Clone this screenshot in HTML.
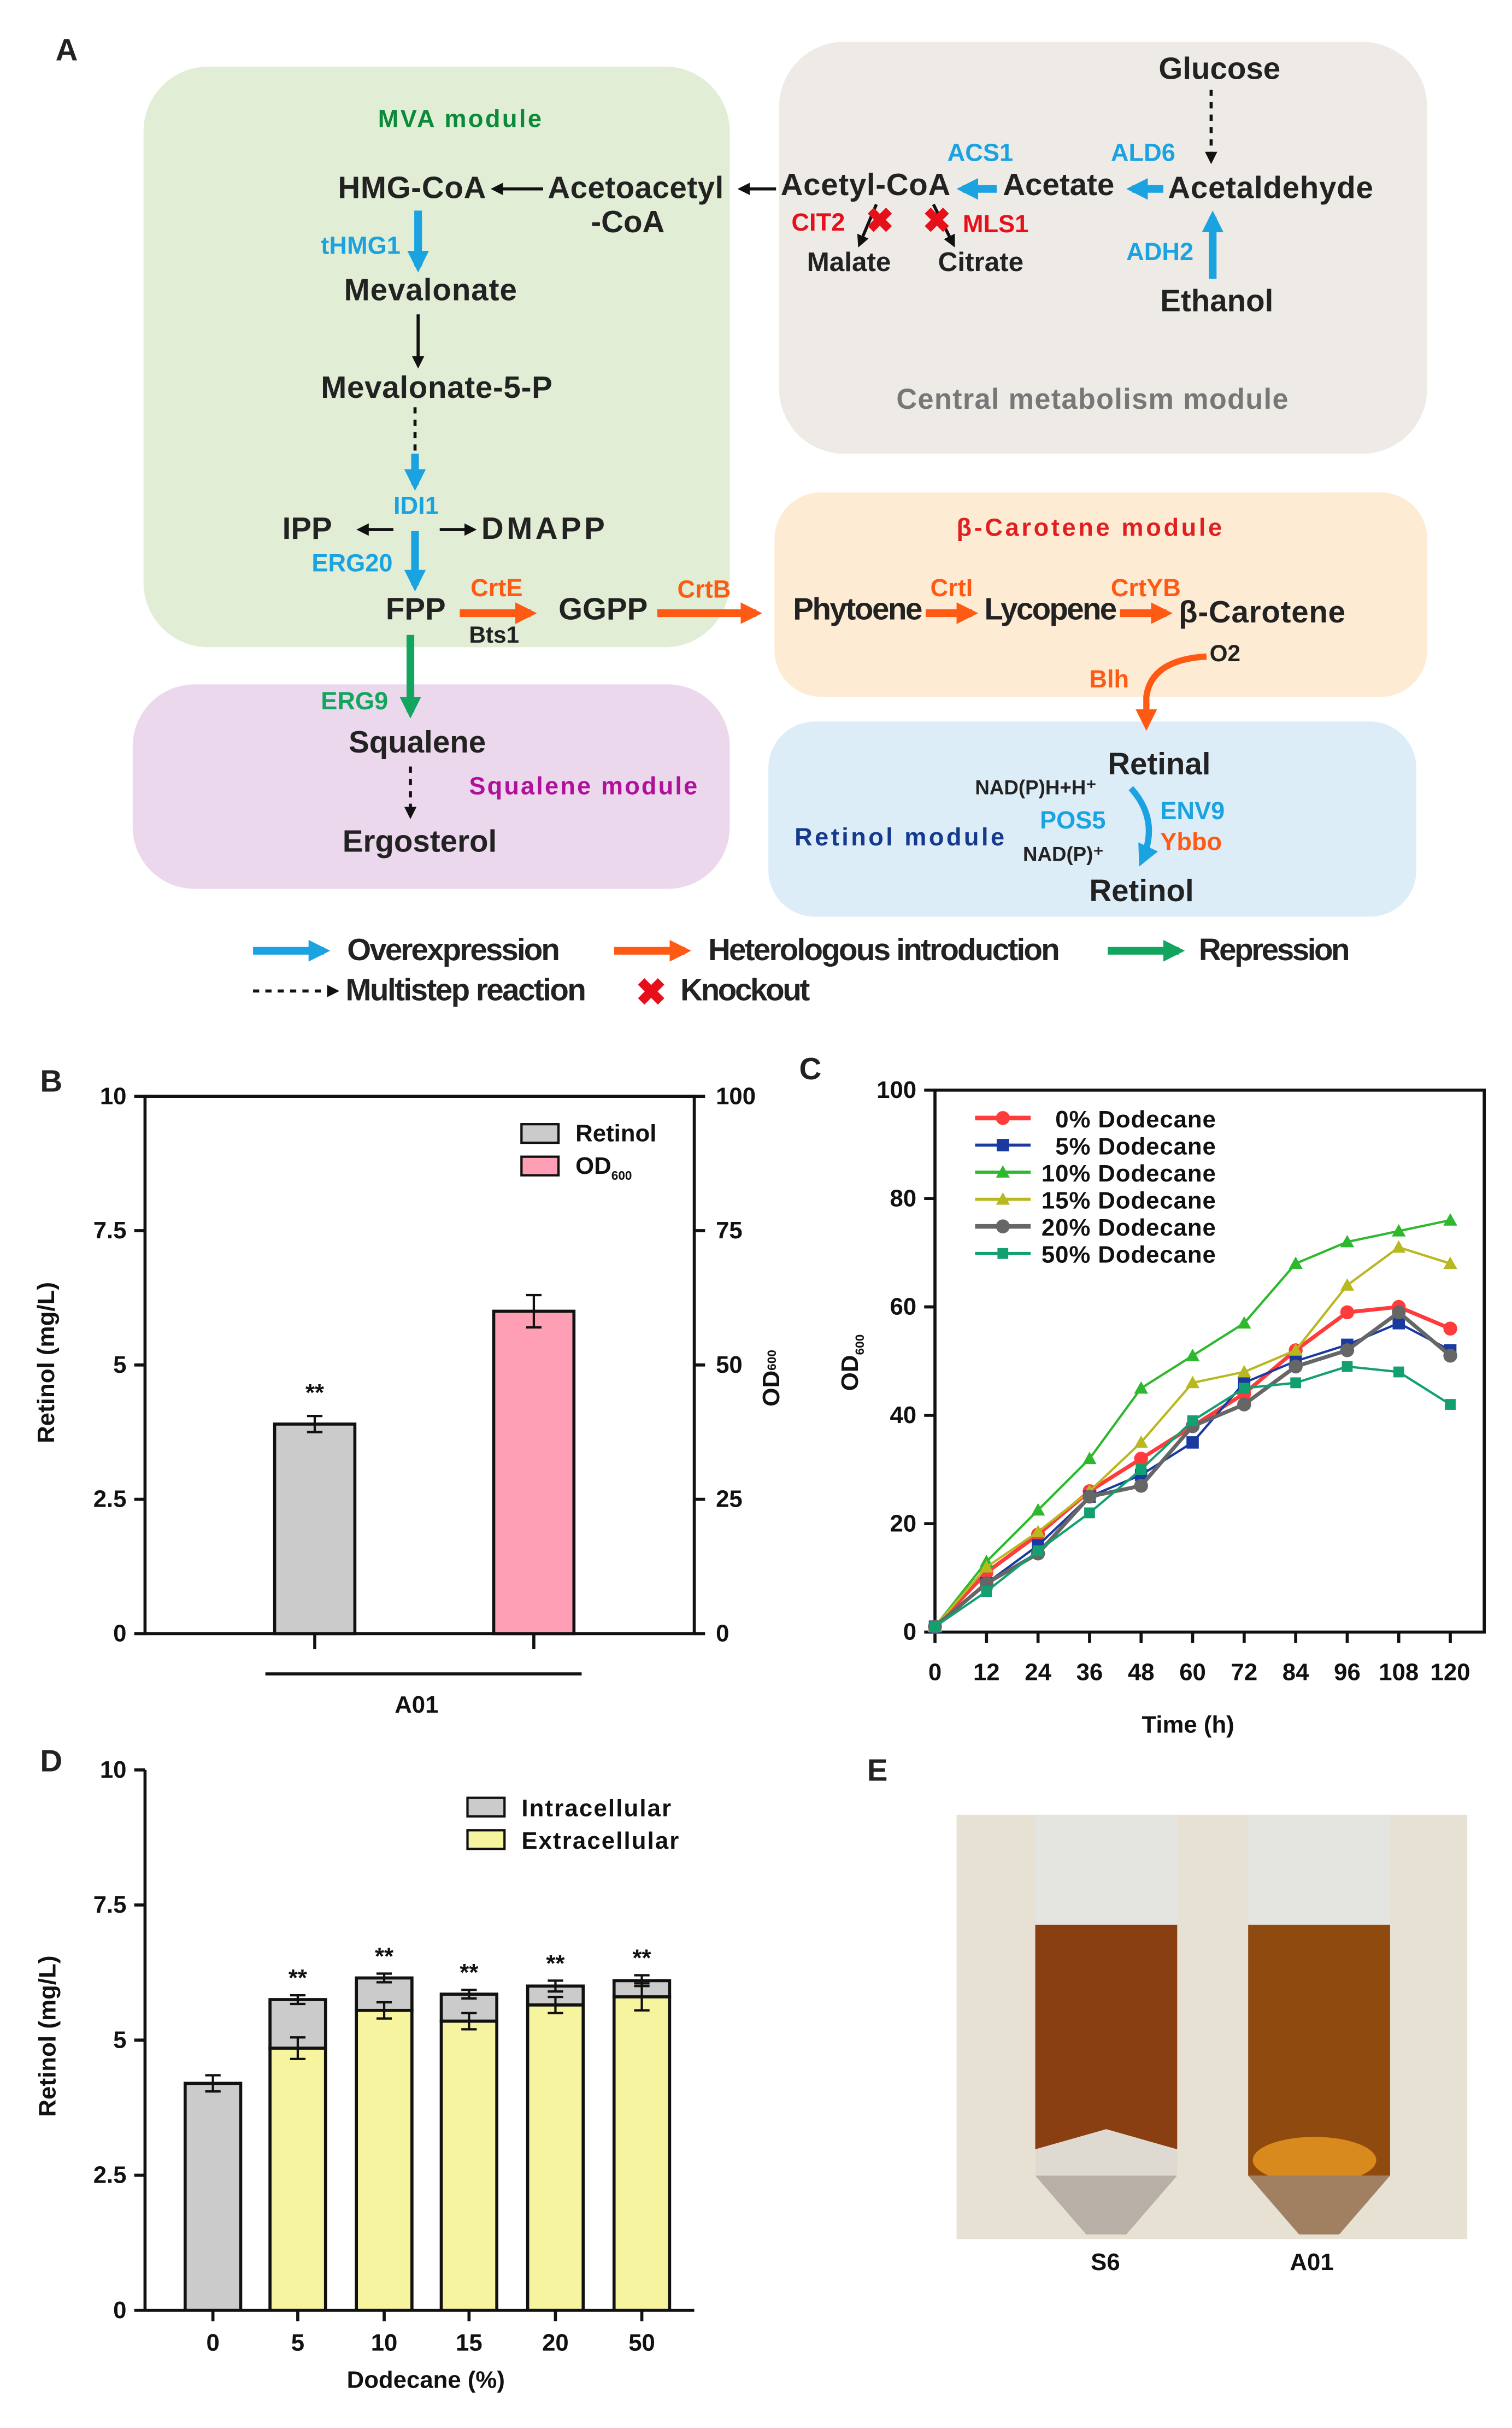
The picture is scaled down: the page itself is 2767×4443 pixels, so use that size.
<!DOCTYPE html>
<html><head><meta charset="utf-8"><style>
html,body{margin:0;padding:0;background:#fff;}
svg{display:block;font-family:"Liberation Sans",Arial,sans-serif;}
.m{font-weight:bold;font-size:20px;fill:#222;}
.e{font-weight:bold;font-size:16px;}
.t{font-weight:bold;font-size:15.5px;fill:#111;}
</style></head><body>
<svg id="fig" width="2767" height="4443" viewBox="0 0 980 1568" preserveAspectRatio="none" xmlns="http://www.w3.org/2000/svg">
<defs>
<marker id="ak" markerWidth="8" markerHeight="8" refX="6" refY="4" orient="auto" markerUnits="userSpaceOnUse"><path d="M0,0 L8,4 L0,8 Z" fill="#111"/></marker>
<marker id="ab" markerWidth="14" markerHeight="14" refX="10" refY="7" orient="auto" markerUnits="userSpaceOnUse"><path d="M0,0 L14,7 L0,14 Z" fill="#1aa3e0"/></marker>
<marker id="ao" markerWidth="14" markerHeight="14" refX="10" refY="7" orient="auto" markerUnits="userSpaceOnUse"><path d="M0,0 L14,7 L0,14 Z" fill="#ff5a14"/></marker>
<marker id="ag" markerWidth="14" markerHeight="14" refX="10" refY="7" orient="auto" markerUnits="userSpaceOnUse"><path d="M0,0 L14,7 L0,14 Z" fill="#13a560"/></marker>
</defs>
<rect width="980" height="1568" fill="#fff"/>
<!-- Panel A -->
<g>
<text x="36" y="39" class="m" font-size="18">A</text>
<rect x="93" y="43" width="380" height="375" rx="42" fill="#e1eed5"/>
<rect x="505" y="27" width="420" height="266" rx="42" fill="#eeebe6"/>
<rect x="502" y="318" width="423" height="132" rx="30" fill="#fdebd4"/>
<rect x="86" y="442" width="387" height="132" rx="40" fill="#ebd8ec"/>
<rect x="498" y="466" width="420" height="126" rx="30" fill="#dcedf8"/>
<text x="245" y="82" class="e" fill="#0a8a3a" font-size="18" textLength="106">MVA module</text>
<text x="581" y="264" font-size="18.5" font-weight="bold" fill="#777" textLength="254">Central metabolism  module</text>
<text x="620" y="346" class="e" fill="#e02020" font-size="18.5" textLength="172">β-Carotene module</text>
<text x="304" y="513" class="e" fill="#b0109a" font-size="18.5" textLength="148">Squalene module</text>
<text x="515" y="546" class="e" fill="#153a8c" font-size="19" textLength="136">Retinol module</text>

<text x="751" y="51" class="m">Glucose</text>
<line x1="785" y1="58" x2="785" y2="104" stroke="#111" stroke-width="2" stroke-dasharray="4,4" marker-end="url(#ak)"/>
<text x="757" y="128" class="m" textLength="133">Acetaldehyde</text>
<text x="650" y="126" class="m">Acetate</text>
<text x="506" y="126" class="m" textLength="110">Acetyl-CoA</text>
<text x="355" y="128" class="m" textLength="114">Acetoacetyl</text>
<text x="383" y="150" class="m">-CoA</text>
<text x="219" y="128" class="m" textLength="96">HMG-CoA</text>
<text x="752" y="201" class="m">Ethanol</text>
<text x="523" y="175" font-size="17.5" font-weight="bold" fill="#222">Malate</text>
<text x="608" y="175" font-size="17.5" font-weight="bold" fill="#222">Citrate</text>
<line x1="754" y1="122" x2="734" y2="122" stroke="#1aa3e0" stroke-width="5" marker-end="url(#ab)"/>
<line x1="646" y1="122" x2="624" y2="122" stroke="#1aa3e0" stroke-width="5" marker-end="url(#ab)"/>
<line x1="786" y1="180" x2="786" y2="140" stroke="#1aa3e0" stroke-width="5" marker-end="url(#ab)"/>
<text x="614" y="104" class="e" fill="#1aa3e0">ACS1</text>
<text x="720" y="104" class="e" fill="#1aa3e0">ALD6</text>
<text x="730" y="168" class="e" fill="#1aa3e0">ADH2</text>
<line x1="503" y1="122" x2="480" y2="122" stroke="#111" stroke-width="2" marker-end="url(#ak)"/>
<line x1="352" y1="122" x2="320" y2="122" stroke="#111" stroke-width="2" marker-end="url(#ak)"/>
<line x1="568" y1="132" x2="557" y2="158" stroke="#111" stroke-width="2" marker-end="url(#ak)"/>
<line x1="605" y1="132" x2="618" y2="158" stroke="#111" stroke-width="2" marker-end="url(#ak)"/>
<text x="561" y="150" font-size="22" font-weight="bold" fill="#e5101a">✖</text>
<text x="598" y="150" font-size="22" font-weight="bold" fill="#e5101a">✖</text>
<text x="513" y="149" class="e" fill="#e5101a">CIT2</text>
<text x="624" y="150" class="e" fill="#e5101a">MLS1</text>

<line x1="271" y1="136" x2="271" y2="172" stroke="#1aa3e0" stroke-width="5" marker-end="url(#ab)"/>
<text x="208" y="164" class="e" fill="#1aa3e0">tHMG1</text>
<text x="223" y="194" class="m" textLength="112">Mevalonate</text>
<line x1="271" y1="203" x2="271" y2="236" stroke="#111" stroke-width="2" marker-end="url(#ak)"/>
<text x="208" y="257" class="m" textLength="150">Mevalonate-5-P</text>
<line x1="269" y1="263" x2="269" y2="293" stroke="#111" stroke-width="2" stroke-dasharray="4,4"/>
<line x1="269" y1="293" x2="269" y2="313" stroke="#1aa3e0" stroke-width="5" marker-end="url(#ab)"/>
<text x="255" y="332" class="e" fill="#1aa3e0">IDI1</text>
<text x="183" y="348" class="m">IPP</text>
<text x="312" y="348" class="m" textLength="80">DMAPP</text>
<line x1="255" y1="342" x2="233" y2="342" stroke="#111" stroke-width="2" marker-end="url(#ak)"/>
<line x1="285" y1="342" x2="307" y2="342" stroke="#111" stroke-width="2" marker-end="url(#ak)"/>
<line x1="269" y1="343" x2="269" y2="378" stroke="#1aa3e0" stroke-width="5" marker-end="url(#ab)"/>
<text x="202" y="369" class="e" fill="#1aa3e0">ERG20</text>
<text x="250" y="400" class="m">FPP</text>
<line x1="298" y1="396" x2="344" y2="396" stroke="#ff5a14" stroke-width="5" marker-end="url(#ao)"/>
<text x="305" y="385" class="e" fill="#ff5a14">CrtE</text>
<text x="304" y="415" font-size="15" font-weight="bold" fill="#222">Bts1</text>
<text x="362" y="400" class="m">GGPP</text>
<line x1="426" y1="396" x2="490" y2="396" stroke="#ff5a14" stroke-width="5" marker-end="url(#ao)"/>
<text x="439" y="386" class="e" fill="#ff5a14">CrtB</text>
<text x="514" y="400" class="m" textLength="84">Phytoene</text>
<line x1="600" y1="396" x2="630" y2="396" stroke="#ff5a14" stroke-width="5" marker-end="url(#ao)"/>
<text x="603" y="385" class="e" fill="#ff5a14">CrtI</text>
<text x="638" y="400" class="m" textLength="86">Lycopene</text>
<line x1="726" y1="396" x2="756" y2="396" stroke="#ff5a14" stroke-width="5" marker-end="url(#ao)"/>
<text x="720" y="385" class="e" fill="#ff5a14">CrtYB</text>
<text x="764" y="402" class="m" textLength="108">β-Carotene</text>
<path d="M782,424 Q746,426 743,450 L743,468" fill="none" stroke="#ff5a14" stroke-width="4" marker-end="url(#ao)"/>
<text x="784" y="427" font-size="15" font-weight="bold" fill="#222">O2</text>
<text x="706" y="444" class="e" fill="#ff5a14">Blh</text>
<line x1="266" y1="410" x2="266" y2="460" stroke="#13a560" stroke-width="5" marker-end="url(#ag)"/>
<text x="208" y="458" class="e" fill="#13a560">ERG9</text>
<text x="226" y="486" class="m">Squalene</text>
<line x1="266" y1="495" x2="266" y2="527" stroke="#111" stroke-width="2" stroke-dasharray="4,4" marker-end="url(#ak)"/>
<text x="222" y="550" class="m">Ergosterol</text>
<text x="718" y="500" class="m">Retinal</text>
<text x="706" y="582" class="m">Retinol</text>
<path d="M733,509 Q752,530 740,556" fill="none" stroke="#1aa3e0" stroke-width="4" marker-end="url(#ab)"/>
<text x="632" y="513" font-size="13" font-weight="bold" fill="#222">NAD(P)H+H⁺</text>
<text x="663" y="556" font-size="13" font-weight="bold" fill="#222">NAD(P)⁺</text>
<text x="674" y="535" class="e" fill="#1aa3e0">POS5</text>
<text x="752" y="529" class="e" fill="#1aa3e0">ENV9</text>
<text x="752" y="549" class="e" fill="#ff5a14">Ybbo</text>
<!-- legend -->
<line x1="164" y1="614" x2="210" y2="614" stroke="#1aa3e0" stroke-width="5" marker-end="url(#ab)"/>
<text x="225" y="620" class="m" font-size="17.5" textLength="138">Overexpression</text>
<line x1="398" y1="614" x2="444" y2="614" stroke="#ff5a14" stroke-width="5" marker-end="url(#ao)"/>
<text x="459" y="620" class="m" font-size="17.5" textLength="228">Heterologous introduction</text>
<line x1="718" y1="614" x2="764" y2="614" stroke="#13a560" stroke-width="5" marker-end="url(#ag)"/>
<text x="777" y="620" class="m" font-size="17.5" textLength="98">Repression</text>
<line x1="164" y1="640" x2="218" y2="640" stroke="#111" stroke-width="2" stroke-dasharray="4,4" marker-end="url(#ak)"/>
<text x="224" y="646" class="m" font-size="17.5" textLength="156">Multistep reaction</text>
<text x="412" y="649" font-size="24" font-weight="bold" fill="#e5101a">✖</text>
<text x="441" y="646" class="m" font-size="17.5" textLength="84">Knockout</text>
</g>
<g id="pB"></g>
<g id="pC"></g>
<g id="pD"></g>
<!-- Panel E -->
<g>
<text x="562" y="1150" class="m" font-size="18">E</text>
<rect x="620" y="1172" width="331" height="274" fill="#e6e1d3"/>
<g>
<rect x="671" y="1172" width="92" height="233" fill="#e4e4e0"/>
<rect x="671" y="1243" width="92" height="145" fill="#8a3f12"/>
<path d="M671,1388 L717,1375 L763,1388 L763,1405 L671,1405Z" fill="#dedad2"/>
<path d="M671,1405 L763,1405 L730,1443 L704,1443Z" fill="#b8b0a6"/>
</g>
<g>
<rect x="809" y="1172" width="92" height="233" fill="#e4e4e0"/>
<rect x="809" y="1243" width="92" height="162" fill="#8f4a10"/>
<ellipse cx="852" cy="1395" rx="40" ry="15" fill="#d88a1c"/>
<path d="M809,1405 L901,1405 L868,1443 L842,1443Z" fill="#a08060"/>
</g>
<text x="707" y="1466" class="t" font-size="17">S6</text>
<text x="836" y="1466" class="t" font-size="17">A01</text>
</g>
</svg>
<script>
// Panel B data
const bCats=["Retinol","OD600"];
const bVals=[3.9,60];
const bErr=[0.15,3];
const bLeftTicks=[0,2.5,5,7.5,10];
const bRightTicks=[0,25,50,75,100];
// Panel C data
const cTimes=[0,12,24,36,48,60,72,84,96,108,120];
const cSeriesNames=["0%  Dodecane","5%  Dodecane","10% Dodecane","15% Dodecane","20% Dodecane","50% Dodecane"];
const c0=[1,11,18,26,32,38,44,52,59,60,56];
const c5=[1,9,16,25,29,35,46,50,53,57,52];
const c10=[1,13,22.5,32,45,51,57,68,72,74,76];
const c15=[1,12,18.5,26,35,46,48,52,64,71,68];
const c20=[1,9,14.5,25,27,38,42,49,52,59,51];
const c50=[1,7.5,15,22,30,39,45,46,49,48,42];
const cYTicks=[0,20,40,60,80,100];
// Panel D data
const dCats=["0","5","10","15","20","50"];
const dExtra=[0,4.85,5.55,5.35,5.65,5.8];
const dTotal=[4.2,5.75,6.15,5.85,6.0,6.1];
const dExtraErr=[0,0.2,0.15,0.15,0.15,0.25];
const dTotalErr=[0.15,0.08,0.08,0.08,0.1,0.1];
const dSig=["","**","**","**","**","**"];
const dYTicks=[0,2.5,5,7.5,10];

const NS="http://www.w3.org/2000/svg";
function mk(p,tag,at,txt){const e=document.createElementNS(NS,tag);for(const k in at)e.setAttribute(k,at[k]);if(txt!==undefined)e.textContent=txt;p.appendChild(e);return e;}
function fmt(v){return String(v);}
const BLK="#111";
// ---------- Panel B ----------
(function(){
const g=document.getElementById('pB');
const x0=94,x1=450,y0=1055,y1=708;
const yL=v=>y0-(v/10)*(y0-y1), yR=v=>y0-(v/100)*(y0-y1);
let t=mk(g,'text',{x:26,y:705,class:'m','font-size':'18'},'B');


mk(g,'rect',{x:x0,y:y1,width:x1-x0,height:y0-y1,fill:'none',stroke:BLK,'stroke-width':2});
bLeftTicks.forEach(v=>{const y=yL(v);
 const l=mk(g,'line',{x1:x0-7,y1:y,x2:x0,y2:y,stroke:BLK,'stroke-width':2});
 
 
 mk(g,'text',{x:x0-12,y:y+5,'text-anchor':'end',class:'t'},fmt(v));});
bRightTicks.forEach(v=>{const y=yR(v);
 mk(g,'line',{x1:x1,y1:y,x2:x1+7,y2:y,stroke:BLK,'stroke-width':2});
 mk(g,'text',{x:x1+14,y:y+5,class:'t'},fmt(v));});
const yt=mk(g,'text',{x:35,y:880,transform:'rotate(-90 35 880)','text-anchor':'middle',class:'t','font-size':'16.5'},'Retinol (mg/L)');


const yt2=mk(g,'text',{x:505,y:890,transform:'rotate(-90 505 890)','text-anchor':'middle',class:'t','font-size':'16.5'},'');


mk(yt2,'tspan',{},'OD');mk(yt2,'tspan',{'font-size':'8',dy:'-2'},'600');
const cx=[204,346], cols=['#cbcbcb','#ff9fb5'];
bVals.forEach((v,i)=>{const y=i===0?yL(v):yR(v);const sc=i===0?yL:yR;
 const r=mk(g,'rect',{x:cx[i]-26,y:y,width:52,height:y0-y,fill:cols[i],stroke:BLK,'stroke-width':2});
 
 
 const ea=sc(v+bErr[i]),eb=sc(v-bErr[i]);
 mk(g,'line',{x1:cx[i],y1:ea,x2:cx[i],y2:eb,stroke:BLK,'stroke-width':1.5});
 mk(g,'line',{x1:cx[i]-5,y1:ea,x2:cx[i]+5,y2:ea,stroke:BLK,'stroke-width':1.5});
 mk(g,'line',{x1:cx[i]-5,y1:eb,x2:cx[i]+5,y2:eb,stroke:BLK,'stroke-width':1.5});
 mk(g,'line',{x1:cx[i],y1:y0,x2:cx[i],y2:y0+10,stroke:BLK,'stroke-width':2});});
mk(g,'text',{x:204,y:yL(bVals[0]+bErr[0])-10,'text-anchor':'middle',class:'t'},'**');
mk(g,'line',{x1:172,y1:1081,x2:377,y2:1081,stroke:BLK,'stroke-width':2});
mk(g,'text',{x:270,y:1106,'text-anchor':'middle',class:'t','font-size':'16.5'},'A01');
const lg=mk(g,'g',{});


mk(lg,'rect',{x:338,y:726,width:24,height:12,fill:cols[0],stroke:BLK,'stroke-width':1.5});
mk(lg,'text',{x:373,y:737,class:'t','font-size':'17.5'},'Retinol');
mk(lg,'rect',{x:338,y:747,width:24,height:12,fill:cols[1],stroke:BLK,'stroke-width':1.5});
const lt=mk(lg,'text',{x:373,y:758,class:'t','font-size':'17.5'},'');
mk(lt,'tspan',{},'OD');mk(lt,'tspan',{'font-size':'8',dy:'4'},'600');
})();
// ---------- Panel C ----------
(function(){
const g=document.getElementById('pC');
const x0=606,x1=940,y0=1054,y1=704,right=962;
const sx=v=>x0+(v/120)*(x1-x0), sy=v=>y0-(v/100)*(y0-y1);
let t=mk(g,'text',{x:518,y:697,class:'m','font-size':'18'},'C');


mk(g,'rect',{x:x0,y:y1,width:right-x0,height:y0-y1,fill:'none',stroke:BLK,'stroke-width':2});
cYTicks.forEach(v=>{const y=sy(v);mk(g,'line',{x1:x0-7,y1:y,x2:x0,y2:y,stroke:BLK,'stroke-width':2});
 mk(g,'text',{x:x0-12,y:y+5,'text-anchor':'end',class:'t','font-size':'16'},fmt(v));});
cTimes.forEach(v=>{const x=sx(v);mk(g,'line',{x1:x,y1:y0,x2:x,y2:y0+7,stroke:BLK,'stroke-width':2});
 mk(g,'text',{x:x,y:y0+31,'text-anchor':'middle',class:'t','font-size':'16'},fmt(v));});
const xt=mk(g,'text',{x:770,y:1119,'text-anchor':'middle',class:'t','font-size':'16.5'},'Time (h)');


const yt=mk(g,'text',{x:556,y:880,transform:'rotate(-90 556 880)','text-anchor':'middle',class:'t','font-size':'16.5'},'');


mk(yt,'tspan',{},'OD');mk(yt,'tspan',{'font-size':'8',dy:'4'},'600');
const series=[c0,c5,c10,c15,c20,c50];
const colors=['#ff3b3b','#1a3aa0','#2db82d','#b8b820','#666666','#13a070'];
const marks=['circle','square','tri','tri','circle','square'];
const sizes=[4.5,4,3.5,3.5,4.5,3.5];
const widths=[2.5,1.5,1.5,1.5,2.5,1.5];
function marker(p,type,x,y,s,c){
 if(type==='circle')return mk(p,'circle',{cx:x,cy:y,r:s,fill:c});
 if(type==='square')return mk(p,'rect',{x:x-s,y:y-s,width:2*s,height:2*s,fill:c});
 return mk(p,'path',{d:`M${x},${y-s-1} L${x+s+1},${y+s} L${x-s-1},${y+s}Z`,fill:c});}
series.forEach((d,si)=>{const sg=mk(g,'g',{});
 
 
 mk(sg,'polyline',{points:d.map((v,i)=>sx(cTimes[i])+','+sy(v)).join(' '),fill:'none',stroke:colors[si],'stroke-width':widths[si]});
 d.forEach((v,i)=>{const m=marker(sg,marks[si],sx(cTimes[i]),sy(v),sizes[si],colors[si]);
  
  });
 const ly=722+si*17.5;
 const le=mk(g,'g',{});
 
 
 mk(le,'line',{x1:632,y1:ly,x2:668,y2:ly,stroke:colors[si],'stroke-width':widths[si]+0.5});
 marker(le,marks[si],650,ly,sizes[si],colors[si]);
 mk(le,'text',{x:si<2?684:675,y:ly+6,class:'t','font-size':'17.5',fill:'#222','textLength':si<2?104:113},cSeriesNames[si]);
});
})();
// ---------- Panel D ----------
(function(){
const g=document.getElementById('pD');
const x0=94,x1=450,y0=1492,y1=1143;
const sy=v=>y0-(v/10)*(y0-y1);
const cx=[138,193,249,304,360,416], w=36;
let t=mk(g,'text',{x:26,y:1144,class:'m','font-size':'18'},'D');


mk(g,'line',{x1:x0,y1:y1,x2:x0,y2:y0,stroke:BLK,'stroke-width':2});
mk(g,'line',{x1:x0,y1:y0,x2:x1,y2:y0,stroke:BLK,'stroke-width':2});
dYTicks.forEach(v=>{const y=sy(v);mk(g,'line',{x1:x0-7,y1:y,x2:x0,y2:y,stroke:BLK,'stroke-width':2});
 mk(g,'text',{x:x0-12,y:y+5,'text-anchor':'end',class:'t'},fmt(v));});
const yt=mk(g,'text',{x:36,y:1315,transform:'rotate(-90 36 1315)','text-anchor':'middle',class:'t','font-size':'16.5'},'Retinol (mg/L)');


const xt=mk(g,'text',{x:276,y:1542,'text-anchor':'middle',class:'t','font-size':'16.5'},'Dodecane (%)');


function eb(x,v,e){if(!e)return;const a=sy(v+e),b=sy(v-e);
 mk(g,'line',{x1:x,y1:a,x2:x,y2:b,stroke:BLK,'stroke-width':1.5});
 mk(g,'line',{x1:x-5,y1:a,x2:x+5,y2:a,stroke:BLK,'stroke-width':1.5});
 mk(g,'line',{x1:x-5,y1:b,x2:x+5,y2:b,stroke:BLK,'stroke-width':1.5});}
dCats.forEach((c,i)=>{const x=cx[i];
 const top=mk(g,'rect',{x:x-w/2,y:sy(dTotal[i]),width:w,height:sy(dExtra[i])-sy(dTotal[i]),fill:'#cbcbcb',stroke:BLK,'stroke-width':2});
 
 
 if(dExtra[i]>0){const r=mk(g,'rect',{x:x-w/2,y:sy(dExtra[i]),width:w,height:y0-sy(dExtra[i]),fill:'#f7f4a0',stroke:BLK,'stroke-width':2});
  
  }
 eb(x,dTotal[i],dTotalErr[i]);eb(x,dExtra[i],dExtraErr[i]);
 mk(g,'line',{x1:x,y1:y0,x2:x,y2:y0+7,stroke:BLK,'stroke-width':2});
 mk(g,'text',{x:x,y:y0+26,'text-anchor':'middle',class:'t'},c);
 if(dSig[i])mk(g,'text',{x:x,y:sy(dTotal[i]+dTotalErr[i])-6,'text-anchor':'middle',class:'t'},dSig[i]);});
const lg=mk(g,'g',{});


mk(lg,'rect',{x:303,y:1161,width:24,height:12,fill:'#cbcbcb',stroke:BLK,'stroke-width':1.5});
mk(lg,'text',{x:338,y:1173,class:'t','font-size':'17','textLength':97},'Intracellular');
mk(lg,'rect',{x:303,y:1182,width:24,height:12,fill:'#f7f4a0',stroke:BLK,'stroke-width':1.5});
mk(lg,'text',{x:338,y:1194,class:'t','font-size':'17','textLength':102},'Extracellular');
})();
</script>
</body></html>
